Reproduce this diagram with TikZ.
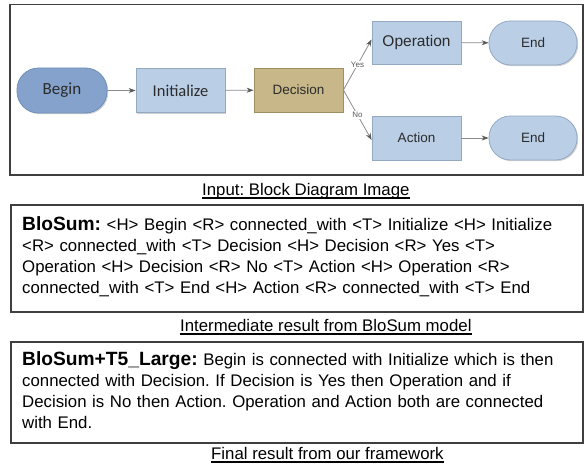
\documentclass[tikz,border=0pt]{standalone}
\usepackage{fontspec}
\setmainfont{Liberation Sans}
\newfontfamily\calib{Carlito}
\usetikzlibrary{arrows.meta,shadows}
\frenchspacing
\definecolor{beginfill}{HTML}{84A2CC}
\definecolor{begindraw}{HTML}{7090BA}
\definecolor{boxfill}{HTML}{BACEE6}
\definecolor{boxdraw}{HTML}{93A9C4}
\definecolor{decfill}{HTML}{C7B789}
\definecolor{decdraw}{HTML}{A08F60}
\definecolor{nodetext}{HTML}{2B2B2B}
\definecolor{edgecol}{HTML}{8C8C8C}
\definecolor{framecol}{HTML}{3F3F3F}
\tikzset{
  flowbox/.style={draw=boxdraw, fill=boxfill, line width=0.8pt, minimum width=89pt, minimum height=44pt, inner sep=0pt, text=nodetext,
    drop shadow={shadow xshift=1.2pt, shadow yshift=-1.2pt, fill=black, opacity=0.18}},
  termbox/.style={flowbox, rounded corners=21.5pt, minimum width=88pt},
  beginbox/.style={termbox, draw=begindraw, fill=beginfill, minimum width=90pt, minimum height=45pt},
  decbox/.style={flowbox, draw=decdraw, fill=decfill},
  flowedge/.style={draw=edgecol, line width=0.8pt, -{Stealth[length=7pt,width=5pt,color=black!65]}},
  edgelabel/.style={font=\fontsize{8}{9}\selectfont, text=black!65, fill=white, inner sep=0.8pt},
  frame/.style={draw=framecol, line width=1.1pt},
  bodytext/.style={anchor=base west, inner sep=0pt, text width=556pt, align=left, font=\fontsize{16.8}{21.2}\selectfont},
  captext/.style={anchor=base west, inner sep=0pt, font=\fontsize{16.8}{20}\selectfont}
}
\begin{document}
\begin{tikzpicture}[x=1pt,y=-1pt]
\useasboundingbox (0,0) rectangle (585,468);
\fill[white] (0,0) rectangle (585,468);
% top frame
\draw[frame] (10,4.5) rectangle (583,175);
% diagram nodes
\node[beginbox, font=\calib\fontsize{17}{20}\selectfont] (begin) at (62,90.5) {Begin};
\node[flowbox, font=\calib\fontsize{16.5}{20}\selectfont] (init) at (180.5,90.5) {Initialize};
\node[decbox, font=\fontsize{13.5}{16}\selectfont] (dec) at (298.5,90) {Decision};
\node[flowbox, minimum height=43pt, font=\fontsize{15.5}{18}\selectfont] (op) at (416.5,42.5) {Operation};
\node[flowbox, font=\fontsize{13.5}{16}\selectfont] (act) at (416.5,138) {Action};
\node[termbox, font=\fontsize{13.5}{16}\selectfont] (end1) at (533,43) {End};
\node[termbox, font=\fontsize{13.5}{16}\selectfont] (end2) at (533,138) {End};
% connectors
\draw[flowedge] (begin) -- (init);
\draw[flowedge] (init) -- (dec);
\draw[flowedge] (dec.east) -- node[edgelabel] (yes) {Yes} ([yshift=3pt]op.west);
\draw[flowedge] (dec.east) -- node[edgelabel] (no) {No} ([yshift=-2pt]act.west);
\draw[flowedge] (op) -- (end1);
\draw[flowedge] (act) -- (end2);
% caption 1
\node[captext] (cap1) at (202,195) {Input: Block Diagram Image};
\draw[line width=1.2pt] ([yshift=-3pt]cap1.base west) -- ([yshift=-3pt]cap1.base east);
% box 2
\draw[frame] (11,205) rectangle (583,312);
\node[bodytext] (blosum) at (22,230) {{\fontsize{19.2}{21.2}\selectfont\bfseries BloSum:} <H> Begin <R> connected\_with <T> Initialize <H> Initialize\\
<R> connected\_with <T> Decision <H> Decision <R> Yes <T>\\
Operation <H> Decision <R> No <T> Action <H> Operation <R>\\
connected\_with <T> End <H> Action <R> connected\_with <T> End};
\node[captext] (cap2) at (180,331) {Intermediate result from BloSum model};
\draw[line width=1.2pt] ([yshift=-3pt]cap2.base west) -- ([yshift=-3pt]cap2.base east);
% box 3
\draw[frame] (11,342) rectangle (583,443);
\node[bodytext] (final) at (22,365) {{\fontsize{19.2}{21.2}\selectfont\bfseries BloSum+T5\_Large:} Begin is connected with Initialize which is then\\
connected with Decision. If Decision is Yes then Operation and if\\
Decision is No then Action. Operation and Action both are connected\\
with End.};
\node[captext] (cap3) at (211,459) {Final result from our framework};
\draw[line width=1.2pt] ([yshift=-3pt]cap3.base west) -- ([yshift=-3pt]cap3.base east);
\end{tikzpicture}
\end{document}
